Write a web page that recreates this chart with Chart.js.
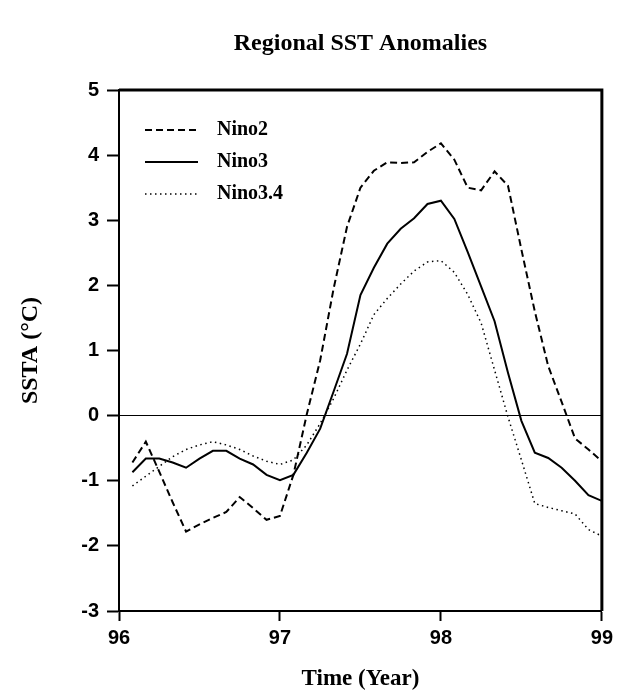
<!DOCTYPE html>
<html>
<head>
<meta charset="utf-8">
<script src="https://cdn.jsdelivr.net/npm/chart.js@4.4.0/dist/chart.umd.min.js"></script>
<style>
  html, body { margin: 0; padding: 0; background: #fff; }
  #wrap { width: 618px; height: 696px; }
</style>
</head>
<body>
<div id="wrap"><canvas id="myChart" width="618" height="696"></canvas></div>
<script>
// month index 1..36 (Jan 1996 .. Dec 1998), plotted at 96 + m/12
let months = [];
for (let m = 1; m <= 36; m++) months.push(m);

let nino2 = [-0.72, -0.40, -0.86, -1.33, -1.78, -1.67, -1.57, -1.48, -1.25, -1.42, -1.60, -1.54,
    -0.91, 0.02, 0.85, 1.95, 2.90, 3.50, 3.76, 3.89, 3.88, 3.89, 4.05, 4.18,
    3.93, 3.50, 3.46, 3.75, 3.53, 2.55, 1.60, 0.76, 0.21, -0.35, -0.52, -0.70];
let nino3 = [-0.87, -0.66, -0.66, -0.72, -0.80, -0.66, -0.54, -0.54, -0.66, -0.75, -0.91, -0.99,
    -0.91, -0.57, -0.20, 0.37, 0.95, 1.85, 2.27, 2.64, 2.87, 3.03, 3.25, 3.30,
    3.02, 2.51, 1.98, 1.45, 0.66, -0.08, -0.57, -0.65, -0.80, -1.00, -1.22, -1.31];
let nino34 = [-1.08, -0.93, -0.78, -0.63, -0.52, -0.45, -0.40, -0.45, -0.52, -0.62, -0.70, -0.75,
    -0.68, -0.45, -0.12, 0.26, 0.70, 1.10, 1.55, 1.80, 2.02, 2.22, 2.36, 2.38,
    2.20, 1.86, 1.42, 0.70, -0.02, -0.68, -1.35, -1.41, -1.46, -1.51, -1.75, -1.85];

let yearTicks = [96, 97, 98, 99];
let sstaTicks = [-3, -2, -1, 0, 1, 2, 3, 4, 5];

function toPoints(values) {
    return values.map((v, i) => ({ x: 96 + months[i] / 12, y: v }));
}

const serif = "'Liberation Serif', 'Times New Roman', serif";
const sans = "'Liberation Sans', Arial, sans-serif";

// title above the plot, frame (top/right thicker), legend inside the plot
const extras = {
    id: "extras",
    afterDraw(chart) {
        const c = chart.ctx;
        const a = chart.chartArea;
        c.save();
        c.fillStyle = "#000";
        c.font = "bold 24px " + serif;
        c.textAlign = "center";
        c.textBaseline = "middle";
        c.fillText("Regional SST Anomalies", (a.left + a.right) / 2, 44);

        c.strokeStyle = "#000";
        c.lineWidth = 3;
        c.beginPath();
        c.moveTo(a.left, a.top);
        c.lineTo(a.right, a.top);
        c.lineTo(a.right, a.bottom);
        c.stroke();

        c.font = "bold 20px " + serif;
        c.textAlign = "left";
        chart.data.datasets.forEach((ds, i) => {
            const y = 130 + i * 32;
            c.lineWidth = ds.borderWidth;
            c.setLineDash(ds.borderDash || []);
            c.beginPath();
            c.moveTo(145, y);
            c.lineTo(198, y);
            c.stroke();
            c.setLineDash([]);
            c.fillText(ds.label, 217, y);
        });
        c.restore();
    }
};

let config = {
    type: "line",
    data: {
        datasets: [
            {
                label: "Nino2",
                data: toPoints(nino2),
                borderColor: "#000",
                borderWidth: 2,
                borderDash: [7, 4],
                pointRadius: 0,
                tension: 0
            },
            {
                label: "Nino3",
                data: toPoints(nino3),
                borderColor: "#000",
                borderWidth: 2,
                pointRadius: 0,
                tension: 0
            },
            {
                label: "Nino3.4",
                data: toPoints(nino34),
                borderColor: "#000",
                borderWidth: 1.5,
                borderDash: [1.5, 3.5],
                pointRadius: 0,
                tension: 0
            }
        ]
    },
    options: {
        responsive: false,
        animation: false,
        layout: { padding: { top: 90, right: 13, left: 0, bottom: 0 } },
        plugins: {
            legend: { display: false },
            tooltip: { enabled: false }
        },
        scales: {
            x: {
                type: "linear",
                min: 96,
                max: 99,
                afterBuildTicks: s => { s.ticks = yearTicks.map(v => ({ value: v })); },
                afterFit: s => { s.height = 85; },
                border: { display: true, color: "#000", width: 2 },
                grid: { color: "transparent", tickColor: "#000", tickLength: 10, tickWidth: 2 },
                ticks: {
                    color: "#000",
                    padding: 5,
                    maxRotation: 0,
                    font: { family: sans, size: 20, weight: "bold" }
                },
                title: {
                    display: true,
                    text: "Time (Year)",
                    color: "#000",
                    padding: { top: 0, bottom: 3 },
                    font: { family: serif, size: 23, weight: "bold" }
                }
            },
            y: {
                min: -3,
                max: 5,
                afterBuildTicks: s => { s.ticks = sstaTicks.map(v => ({ value: v })); },
                afterFit: s => { s.width = 119; },
                border: { display: true, color: "#000", width: 2 },
                grid: {
                    color: ctx => ctx.tick && ctx.tick.value === 0 ? "#000" : "transparent",
                    lineWidth: 1,
                    tickColor: "#000",
                    tickLength: 12,
                    tickWidth: 2
                },
                ticks: {
                    color: "#000",
                    padding: 8,
                    font: { family: sans, size: 20, weight: "bold" }
                },
                title: {
                    display: true,
                    text: "SSTA (°C)",
                    color: "#000",
                    padding: { top: 16, bottom: 0 },
                    font: { family: serif, size: 24, weight: "bold" }
                }
            }
        }
    },
    plugins: [extras]
};

let ctx = document.getElementById("myChart").getContext("2d");
let myChart = new Chart(ctx, config);
</script>
</body>
</html>
